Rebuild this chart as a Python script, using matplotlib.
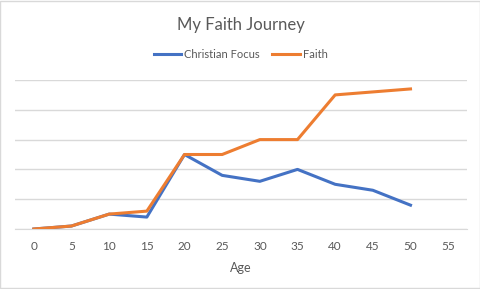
import matplotlib
matplotlib.use("Agg")
import matplotlib.pyplot as plt
from matplotlib.patches import Rectangle

plt.rcParams['font.family'] = ['Lato', 'DejaVu Sans']

ages = [0, 5, 10, 15, 20, 25, 30, 35, 40, 45, 50]
christian_focus = [0, 0.1, 0.5, 0.4, 2.5, 1.8, 1.6, 2.0, 1.5, 1.3, 0.8]
faith = [0, 0.1, 0.5, 0.6, 2.5, 2.5, 3.0, 3.0, 4.5, 4.6, 4.7]
x_ticks = [0, 5, 10, 15, 20, 25, 30, 35, 40, 45, 50, 55]

text_color = '#595959'
grid_color = '#d9d9d9'

fig = plt.figure(figsize=(4.81, 2.89), dpi=100)
ax = fig.add_axes([15 / 481, 1 - 229 / 289, 452 / 481, 149 / 289])

ax.plot(ages, christian_focus, color='#4472C4', lw=2.2, label='Christian Focus',
        solid_joinstyle='round', zorder=3)
ax.plot(ages, faith, color='#ED7D31', lw=2.2, label='Faith',
        solid_joinstyle='round', zorder=4)

ax.set_xlim(-2.5, 57.5)
ax.set_ylim(0, 5)
ax.set_yticks([0, 1, 2, 3, 4, 5])
ax.set_yticklabels([])
ax.set_xticks(x_ticks)
ax.set_xticklabels([str(t) for t in x_ticks], color=text_color, fontsize=8.5)
ax.tick_params(axis='both', length=0)
ax.tick_params(axis='x', pad=9)
ax.grid(axis='y', color=grid_color, lw=1)
for s in ['top', 'left', 'right']:
    ax.spines[s].set_visible(False)
ax.spines['bottom'].set_color(grid_color)
ax.set_xlabel('Age', color=text_color, fontsize=9, labelpad=7)

fig.suptitle('My Faith Journey', y=1 - 25 / 289, va='center', color=text_color, fontsize=12)
fig.legend(loc='center', bbox_to_anchor=(0.5, 1 - 54 / 289), ncol=2, frameon=False,
           fontsize=8, labelcolor=text_color, handlelength=2.5, handletextpad=0.25,
           columnspacing=1.1)

fig.patches.append(Rectangle((0.001, 0.002), 0.997, 0.996, transform=fig.transFigure,
                             fill=False, edgecolor=grid_color, lw=1))

fig.savefig('out.png', dpi=100)
